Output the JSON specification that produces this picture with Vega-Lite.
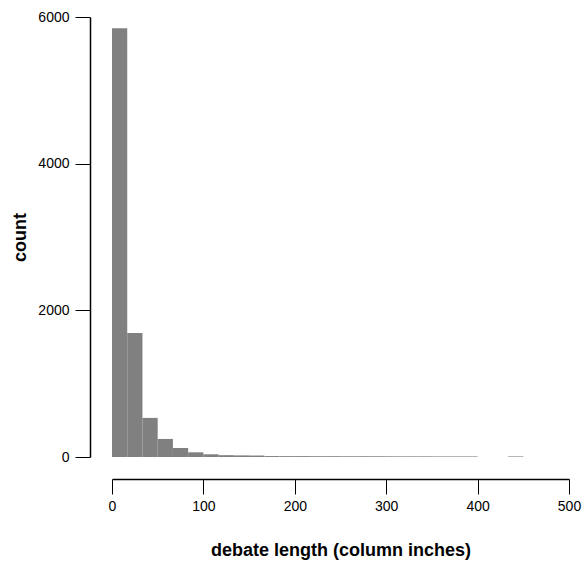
{
  "$schema": "https://vega.github.io/schema/vega-lite/v6.json",
  "autosize": "none",
  "width": 457,
  "height": 440,
  "padding": {"left": 112, "top": 17, "right": 17, "bottom": 113},
  "config": {
    "view": {"stroke": null},
    "font": "Liberation Sans",
    "axis": {
      "grid": false,
      "domainColor": "black",
      "domainWidth": 1.5,
      "tickColor": "black",
      "tickWidth": 1,
      "tickSize": 15,
      "labelFont": "Liberation Sans",
      "labelFontSize": 14,
      "labelColor": "black",
      "labelFlush": false,
      "labelOverlap": false,
      "titleFont": "Liberation Sans",
      "titleFontSize": 18,
      "titleFontWeight": "bold",
      "titleColor": "black"
    }
  },
  "data": {
    "values": [
      {"bin_start": 0, "bin_end": 16.67, "count": 5845},
      {"bin_start": 16.67, "bin_end": 33.33, "count": 1690},
      {"bin_start": 33.33, "bin_end": 50, "count": 533},
      {"bin_start": 50, "bin_end": 66.67, "count": 246},
      {"bin_start": 66.67, "bin_end": 83.33, "count": 123},
      {"bin_start": 83.33, "bin_end": 100, "count": 64},
      {"bin_start": 100, "bin_end": 116.67, "count": 37},
      {"bin_start": 116.67, "bin_end": 133.33, "count": 25},
      {"bin_start": 133.33, "bin_end": 150, "count": 22},
      {"bin_start": 150, "bin_end": 166.67, "count": 20},
      {"bin_start": 166.67, "bin_end": 183.33, "count": 13},
      {"bin_start": 183.33, "bin_end": 200, "count": 12},
      {"bin_start": 200, "bin_end": 216.67, "count": 12},
      {"bin_start": 216.67, "bin_end": 233.33, "count": 11},
      {"bin_start": 233.33, "bin_end": 250, "count": 11},
      {"bin_start": 250, "bin_end": 266.67, "count": 10},
      {"bin_start": 266.67, "bin_end": 283.33, "count": 10},
      {"bin_start": 283.33, "bin_end": 300, "count": 10},
      {"bin_start": 300, "bin_end": 316.67, "count": 9},
      {"bin_start": 316.67, "bin_end": 333.33, "count": 9},
      {"bin_start": 333.33, "bin_end": 350, "count": 9},
      {"bin_start": 350, "bin_end": 366.67, "count": 8},
      {"bin_start": 366.67, "bin_end": 383.33, "count": 8},
      {"bin_start": 383.33, "bin_end": 400, "count": 8},
      {"bin_start": 433.33, "bin_end": 450, "count": 8}
    ]
  },
  "mark": {"type": "rect", "color": "#808080", "strokeWidth": 0},
  "encoding": {
    "x": {
      "field": "bin_start",
      "type": "quantitative",
      "scale": {"domain": [0, 500], "nice": false, "zero": false},
      "axis": {
        "title": "debate length (column inches)",
        "values": [0, 100, 200, 300, 400, 500],
        "format": "d",
        "offset": 22,
        "labelPadding": 5,
        "titlePadding": 28
      }
    },
    "x2": {"field": "bin_end"},
    "y": {
      "field": "count",
      "type": "quantitative",
      "scale": {"domain": [0, 6000], "nice": false},
      "axis": {
        "title": "count",
        "values": [0, 2000, 4000, 6000],
        "format": "d",
        "offset": 22,
        "labelPadding": 6,
        "titlePadding": 8
      }
    },
    "y2": {"datum": 0}
  }
}
